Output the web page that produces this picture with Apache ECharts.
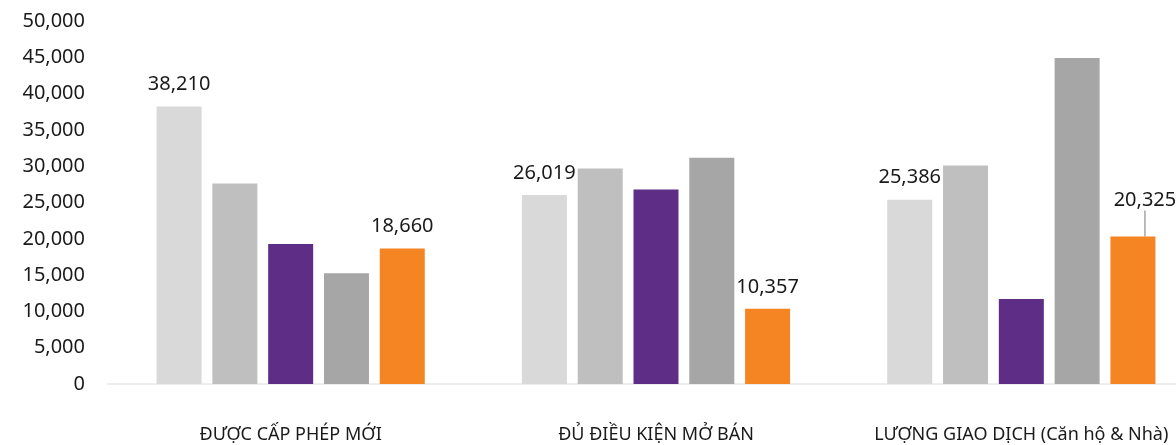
<!DOCTYPE html>
<html>
<head>
<meta charset="utf-8" />
<script src="https://cdn.jsdelivr.net/npm/echarts@6/dist/echarts.min.js"></script>
<style>
  html, body { margin: 0; padding: 0; background: #ffffff; }
  #chart { width: 1176px; height: 445px; }
</style>
</head>
<body>
<div id="chart"></div>
<script>
// data
var categories = ["ĐƯỢC CẤP PHÉP MỚI", "ĐỦ ĐIỀU KIỆN MỞ BÁN", "LƯỢNG GIAO DỊCH (Căn hộ & Nhà)"];
var s1 = [38210, 26019, 25386];
var s2 = [27600, 29700, 30100];
var s3 = [19300, 26800, 11700];
var s4 = [15250, 31150, 44900];
var s5 = [18660, 10357, 20325];
var yTicks = [0, 5000, 10000, 15000, 20000, 25000, 30000, 35000, 40000, 45000, 50000];

var colors = ["#d9d9d9", "#bfbfbf", "#5e2d85", "#a6a6a6", "#f58423"];
var fontFam = "'Noto Sans', sans-serif";

function fmt(v) {
  return v.toLocaleString("en-US");
}

var labelOn = {
  show: true,
  position: "top",
  distance: 12,
  fontSize: 20,
  color: "#1a1a1a",
  fontFamily: fontFam,
  formatter: function (p) { return fmt(p.value); }
};

function makeSeries(vals, idx, withLabel) {
  var data = vals.map(function (v, i) {
    var item = { value: v };
    // last orange label sits up-right with a small leader line
    if (withLabel && idx === 4 && i === 2) {
      item.labelLine = { show: true, lineStyle: { color: "#a6a6a6", width: 1.5 } };
    }
    return item;
  });
  var s = {
    type: "bar",
    data: data,
    barWidth: 45,
    barGap: "24%",
    itemStyle: { color: colors[idx] },
    label: withLabel ? labelOn : { show: false }
  };
  if (withLabel && idx === 4) {
    s.labelLayout = function (p) {
      if (p.dataIndex === 2) return { dx: 12, dy: -14 };
      return {};
    };
  }
  return s;
}

var chart = echarts.init(document.getElementById("chart"));

var option = {
  animation: false,
  grid: { left: 108, top: 21, width: 1096, height: 363, outerBoundsMode: "none", containLabel: false },
  xAxis: {
    type: "category",
    data: categories,
    axisTick: { show: false },
    axisLine: { lineStyle: { color: "#eeeeee", width: 2 } },
    axisLabel: {
      interval: 0,
      hideOverlap: false,
      margin: 42,
      fontSize: 18,
      color: "#1a1a1a",
      fontFamily: fontFam
    }
  },
  yAxis: {
    type: "value",
    min: yTicks[0],
    max: yTicks[yTicks.length - 1],
    interval: 5000,
    splitLine: { show: false },
    axisLine: { show: false },
    axisTick: { show: false },
    axisLabel: {
      margin: 23,
      fontSize: 20,
      color: "#1a1a1a",
      fontFamily: fontFam,
      formatter: function (v) { return fmt(v); }
    }
  },
  series: [
    makeSeries(s1, 0, true),
    makeSeries(s2, 1, false),
    makeSeries(s3, 2, false),
    makeSeries(s4, 3, false),
    makeSeries(s5, 4, true)
  ]
};

chart.setOption(option);
</script>
</body>
</html>
